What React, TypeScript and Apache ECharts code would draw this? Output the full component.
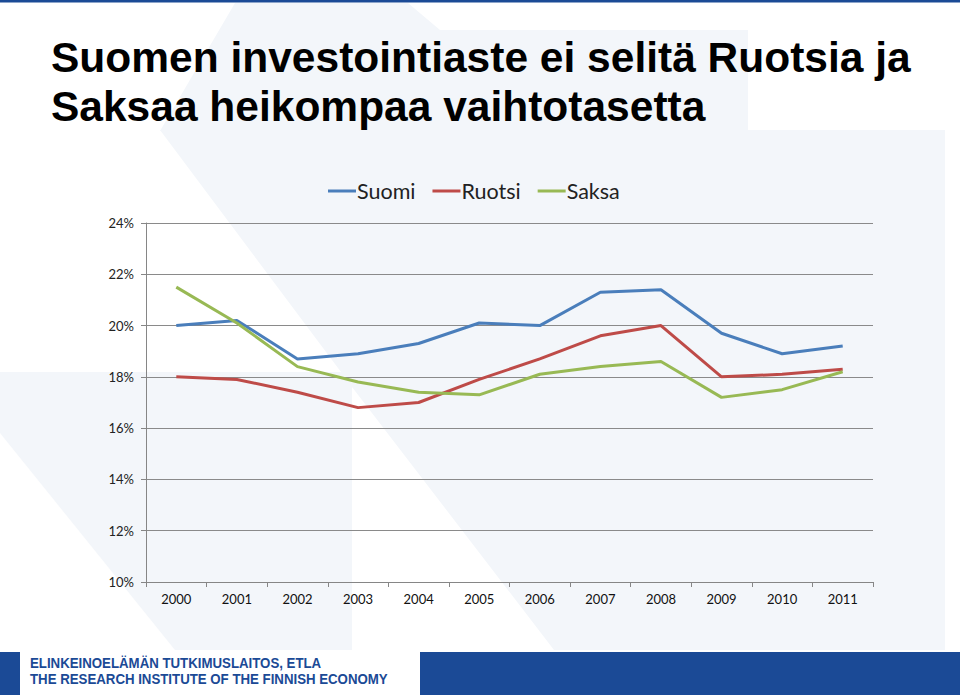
import React, { useEffect, useRef } from "react";
import * as echarts from "echarts";

const years = ["2000", "2001", "2002", "2003", "2004", "2005", "2006", "2007", "2008", "2009", "2010", "2011"];
const suomi = [20.0, 20.2, 18.7, 18.9, 19.3, 20.1, 20.0, 21.3, 21.4, 19.7, 18.9, 19.2];
const ruotsi = [18.0, 17.9, 17.4, 16.8, 17.0, 17.9, 18.7, 19.6, 20.0, 18.0, 18.1, 18.3];
const saksa = [21.5, 20.1, 18.4, 17.8, 17.4, 17.3, 18.1, 18.4, 18.6, 17.2, 17.5, 18.2];
const seriesNames = ["Suomi", "Ruotsi", "Saksa"];
const colors = ["#4A7EBB", "#BE4B48", "#98B954"];
const titleLines = ["Suomen investointiaste ei selitä Ruotsia ja", "Saksaa heikompaa vaihtotasetta"];
const footerLines = ["ELINKEINOELÄMÄN TUTKIMUSLAITOS, ETLA", "THE RESEARCH INSTITUTE OF THE FINNISH ECONOMY"];

export default function App() {
  const ref = useRef<HTMLDivElement>(null);
  useEffect(() => {
    if (!ref.current) return;
    const chart = echarts.init(ref.current, null, { renderer: "svg" });
    const light = "#F3F6FA";
    const blue = "#1B4A96";
    const bgLight = [
      [[235, 3], [408, 3], [440, 30], [748, 30], [748, 131], [160, 131]],
      [[160, 130], [945, 130], [945, 650], [0, 650], [0, 372], [341, 372]],
    ];
    const bgWhite = [
      [[0, 433], [175, 650], [0, 650]],
      [[352, 387], [385, 430], [554, 650], [352, 650]],
    ];
    chart.setOption({
      animation: false,
      backgroundColor: "#ffffff",
      color: colors,
      graphic: [
        ...bgLight.map((pts) => ({
          type: "polygon",
          z: -10,
          silent: true,
          shape: { points: pts },
          style: { fill: light },
        })),
        ...bgWhite.map((pts) => ({
          type: "polygon",
          z: -9,
          silent: true,
          shape: { points: pts },
          style: { fill: "#ffffff" },
        })),
        { type: "rect", z: 5, shape: { x: 0, y: 0, width: 960, height: 2.5 }, style: { fill: blue } },
        { type: "rect", z: 5, shape: { x: 0, y: 652, width: 20, height: 43 }, style: { fill: blue } },
        { type: "rect", z: 5, shape: { x: 420, y: 652, width: 540, height: 43 }, style: { fill: blue } },
        ...titleLines.map((t, i) => ({
          type: "text",
          z: 10,
          left: 51,
          top: 36 + i * 49,
          style: {
            text: t,
            font: "bold 42.5px 'Liberation Sans', Arial, sans-serif",
            fill: "#000000",
          },
        })),
        ...footerLines.map((t, i) => ({
          type: "text",
          z: 10,
          x: 30,
          y: 655 + i * 16,
          scaleX: 0.915,
          style: {
            text: t,
            font: "bold 14.5px 'Liberation Sans', Arial, sans-serif",
            fill: blue,
          },
        })),
      ],
      legend: {
        top: 175,
        left: 323,
        icon: "rect",
        itemWidth: 28,
        itemHeight: 3,
        itemGap: 17,
        data: seriesNames,
        textStyle: { fontFamily: "Lato, 'Open Sans', sans-serif", fontSize: 21.5, color: "#222", padding: [0, 0, 0, -4] },
      },
      grid: { left: 146, right: 87, top: 223, bottom: 113, containLabel: false },
      xAxis: {
        type: "category",
        data: years,
        boundaryGap: true,
        axisLine: { lineStyle: { color: "#868686", width: 1 } },
        axisTick: { show: true, length: 5, lineStyle: { color: "#868686" } },
        axisLabel: { fontFamily: "Lato, 'Open Sans', sans-serif", fontSize: 13, color: "#111", margin: 10 },
      },
      yAxis: {
        type: "value",
        min: 10,
        max: 24,
        interval: 2,
        axisLine: { show: true, lineStyle: { color: "#868686", width: 1 } },
        axisTick: { show: true, length: 5, lineStyle: { color: "#868686" } },
        splitLine: { lineStyle: { color: "#8a8a8a", width: 1 } },
        axisLabel: {
          formatter: (v: number) => v + "%",
          fontFamily: "Lato, 'Open Sans', sans-serif",
          fontSize: 13,
          color: "#222",
          margin: 12,
        },
      },
      series: [
        { name: seriesNames[0], type: "line", data: suomi },
        { name: seriesNames[1], type: "line", data: ruotsi },
        { name: seriesNames[2], type: "line", data: saksa },
      ].map((s) => ({ ...s, symbol: "none", lineStyle: { width: 3 } })),
    });
    return () => chart.dispose();
  }, []);
  return <div ref={ref} style={{ position: "fixed", left: 0, top: 0, width: 960, height: 695 }} />;
}
